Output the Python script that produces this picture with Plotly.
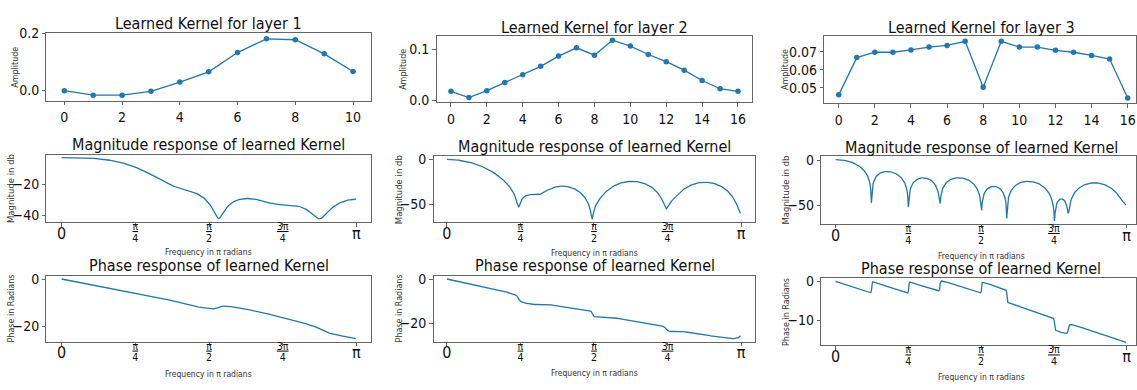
import numpy as np
import plotly.graph_objects as go

# Learned FIR kernels (tap amplitudes), one per layer
kernel_layer1 = [-0.0023, -0.0181, -0.0181, -0.0045, 0.0282, 0.0644,
                 0.1322, 0.1808, 0.1774, 0.1277, 0.0655]
kernel_layer2 = [0.0178, 0.0057, 0.0190, 0.0352, 0.0503, 0.0667, 0.0866,
                 0.1028, 0.0885, 0.1178, 0.1063, 0.0898, 0.0758, 0.0592,
                 0.0389, 0.0229, 0.0178]
kernel_layer3 = [0.0460, 0.0668, 0.0698, 0.0698, 0.0711, 0.0727, 0.0736,
                 0.0759, 0.0502, 0.0759, 0.0727, 0.0727, 0.0709, 0.0698,
                 0.0680, 0.0660, 0.0442]
kernels = [kernel_layer1, kernel_layer2, kernel_layer3]

kernel_titles = ["Learned Kernel for layer 1", "Learned Kernel for layer 2",
                 "Learned Kernel for layer 3"]
magnitude_title = "Magnitude response of learned Kernel"
phase_title = "Phase response of learned Kernel"
amp_label = "Amplitude"
mag_label = "Magnitude in db"
phase_label = "Phase in Radians"
freq_label = "Frequency in π radians"

# frequency ticks in multiples of π; the inner ones are drawn as stacked fractions
freq_tick_fracs = [0, 0.25, 0.5, 0.75, 1.0]
freq_tick_main = ["0", "", "", "", "π"]
frac_tick_fracs = [0.25, 0.5, 0.75]
frac_numerators = ["π", "π", "3π"]
frac_denominators = ["4", "2", "4"]

# ---- frequency response of each kernel (512 points on [0, π)) ----
w = np.pi * np.arange(512) / 512
responses = []
for h in kernels:
    H = np.polyval(np.asarray(h)[::-1], np.exp(-1j * w))
    mag_db = 20 * np.log10(np.abs(H))
    phase = np.unwrap(np.angle(H))
    responses.append((mag_db, phase))

# ---- layout geometry (pixels) ----
W, Hpx = 1137, 390
frame_x = [[(46.5, 371), (437, 753), (825, 1137)],
           [(46.5, 371), (434, 756), (822, 1137)],
           [(46.5, 371), (434, 756), (822, 1137)]]
col_center = [208.7, 595.5, 982]
row_y = [[(26, 96), (29, 98), (29, 99)],
         [(152, 222), (154, 222), (154, 224)],
         [(278, 346), (278, 346), (280, 350)]]
title_y = [[16.5, 20, 20], [141.7, 143.3, 145], [266.7, 267.5, 270.5]]
ylab_x = [[16, 404, 786], [11.7, 399.3, 787], [11.7, 400, 787]]
xlab_y = [[None, None, None], [253.3, 254.3, 257.7], [379.3, 379, 382.7]]
kernel_xrange = [(-0.62, 10.61), (-0.8, 16.8), (-0.8, 16.46)]
kernel_yrange = [(-0.037, 0.201), (-0.004, 0.126), (0.0412, 0.0789)]
kernel_ytick = [(0.2, ".1f"), (0.1, ".1f"), (0.01, ".2f")]
freq_xrange = [(-0.0515, 1.0485), (-0.0453, 1.0487), (-0.049, 1.032)]
mag_dtick = [20, 50, 50]
phase_dtick = [20, 20, 10]
# vertical offsets of the frequency tick label rows below the frame
main_standoff = -7
frac_standoff = -2
frac_line_size = 9     # sets the spacing of the two fraction rows
frac_glyph_size = 10.5

H_FONT = "DejaVu Sans Condensed, Liberation Sans, sans-serif"
V_FONT = "DejaVu Sans, sans-serif"
LINE = "#1f77b4"
FRAME = "#666666"
TEXT = "#111111"


def px_x(p):
    return p / W


def px_y(p):
    return 1 - p / Hpx


def pad_range(vals, frac=0.05):
    lo, hi = float(np.min(vals)), float(np.max(vals))
    span = hi - lo
    return [lo - frac * span, hi + frac * span]


def fraction_labels():
    out = []
    for num, den in zip(frac_numerators, frac_denominators):
        out.append(
            f'<span style="font-size:{frac_glyph_size}px;'
            f'text-decoration:underline">{num}</span><br>'
            f'<span style="font-size:{frac_glyph_size}px">{den}</span>')
    return out


fig = go.Figure()
layout = dict(width=W, height=Hpx, margin=dict(l=0, r=0, t=0, b=0),
              paper_bgcolor="white", plot_bgcolor="white", showlegend=False,
              font=dict(family=H_FONT, color=TEXT))
annotations = []

axis_common = dict(showline=True, mirror=True, linecolor=FRAME, linewidth=1,
                   ticks="outside", ticklen=3.5, tickwidth=1, tickcolor=FRAME,
                   showgrid=False, zeroline=False,
                   tickfont=dict(family=H_FONT, size=14, color=TEXT))
overlay_common = dict(showline=False, ticks="", showgrid=False, zeroline=False,
                      tickmode="array")

next_axis = 10
for r in range(3):
    for c in range(3):
        idx = r * 3 + c + 1
        xa = f"x{idx}" if idx > 1 else "x"
        ya = f"y{idx}" if idx > 1 else "y"
        xkey = f"xaxis{idx}" if idx > 1 else "xaxis"
        ykey = f"yaxis{idx}" if idx > 1 else "yaxis"
        x0, x1 = frame_x[r][c]
        ytop, ybot = row_y[r][c]
        xdom = [px_x(x0), min(px_x(x1), 1.0)]
        ydom = [px_y(ybot), px_y(ytop)]

        if r == 0:
            h = kernels[c]
            taps = list(range(len(h)))
            fig.add_trace(go.Scatter(x=taps, y=h, xaxis=xa, yaxis=ya,
                                     mode="lines+markers",
                                     line=dict(color=LINE, width=1.3),
                                     marker=dict(color=LINE, size=5.5)))
            layout[xkey] = dict(axis_common, domain=xdom, anchor=ya,
                                range=list(kernel_xrange[c]), tick0=0, dtick=2)
            dt, fmt = kernel_ytick[c]
            layout[ykey] = dict(axis_common, domain=ydom, anchor=xa,
                                range=list(kernel_yrange[c]), tick0=0,
                                dtick=dt, tickformat=fmt)
            title, ylab = kernel_titles[c], amp_label
        else:
            mag_db, phase = responses[c]
            yvals = mag_db if r == 1 else phase
            fig.add_trace(go.Scatter(x=w, y=yvals, xaxis=xa, yaxis=ya,
                                     mode="lines",
                                     line=dict(color=LINE, width=1.3)))
            lo, hi = freq_xrange[c]
            xr = [lo * np.pi, hi * np.pi]
            layout[xkey] = dict(axis_common, domain=xdom, anchor=ya, range=xr,
                                tickmode="array",
                                tickvals=[f * np.pi for f in freq_tick_fracs],
                                ticktext=freq_tick_main,
                                ticklabelstandoff=main_standoff,
                                tickfont=dict(family=H_FONT, size=16, color=TEXT))
            # stacked fraction labels (underlined numerator over denominator)
            ax_id = f"x{next_axis}"
            layout[f"xaxis{next_axis}"] = dict(
                overlay_common, overlaying=xa, anchor=ya, range=xr,
                tickvals=[f * np.pi for f in frac_tick_fracs],
                ticktext=fraction_labels(), ticklabelstandoff=frac_standoff,
                tickfont=dict(family=H_FONT, size=frac_line_size, color=TEXT))
            # empty trace so the label axis is drawn
            fig.add_trace(go.Scatter(x=[None], y=[None], xaxis=ax_id,
                                     yaxis=ya, mode="lines",
                                     hoverinfo="skip", showlegend=False))
            next_axis += 1
            layout[ykey] = dict(axis_common, domain=ydom, anchor=xa,
                                range=pad_range(yvals), tick0=0,
                                dtick=mag_dtick[c] if r == 1 else phase_dtick[c])
            title = magnitude_title if r == 1 else phase_title
            ylab = mag_label if r == 1 else phase_label
            annotations.append(dict(text=freq_label, xref="paper", yref="paper",
                                    x=px_x(col_center[c]), y=px_y(xlab_y[r][c]),
                                    xanchor="center", yanchor="middle",
                                    showarrow=False,
                                    font=dict(family=H_FONT, size=8.5, color="#333")))

        annotations.append(dict(text=title, xref="paper", yref="paper",
                                x=px_x(col_center[c]), y=px_y(title_y[r][c]),
                                xanchor="center", yanchor="middle",
                                showarrow=False,
                                font=dict(family=H_FONT, size=16, color=TEXT)))
        annotations.append(dict(text=ylab, xref="paper", yref="paper",
                                x=px_x(ylab_x[r][c]),
                                y=px_y((ytop + ybot) / 2),
                                xanchor="center", yanchor="middle",
                                textangle=-90, showarrow=False,
                                font=dict(family=V_FONT, size=8 if r != 1 else 8.5,
                                          color="#333")))

layout["annotations"] = annotations
fig.update_layout(**layout)
fig.write_html("out.html")
